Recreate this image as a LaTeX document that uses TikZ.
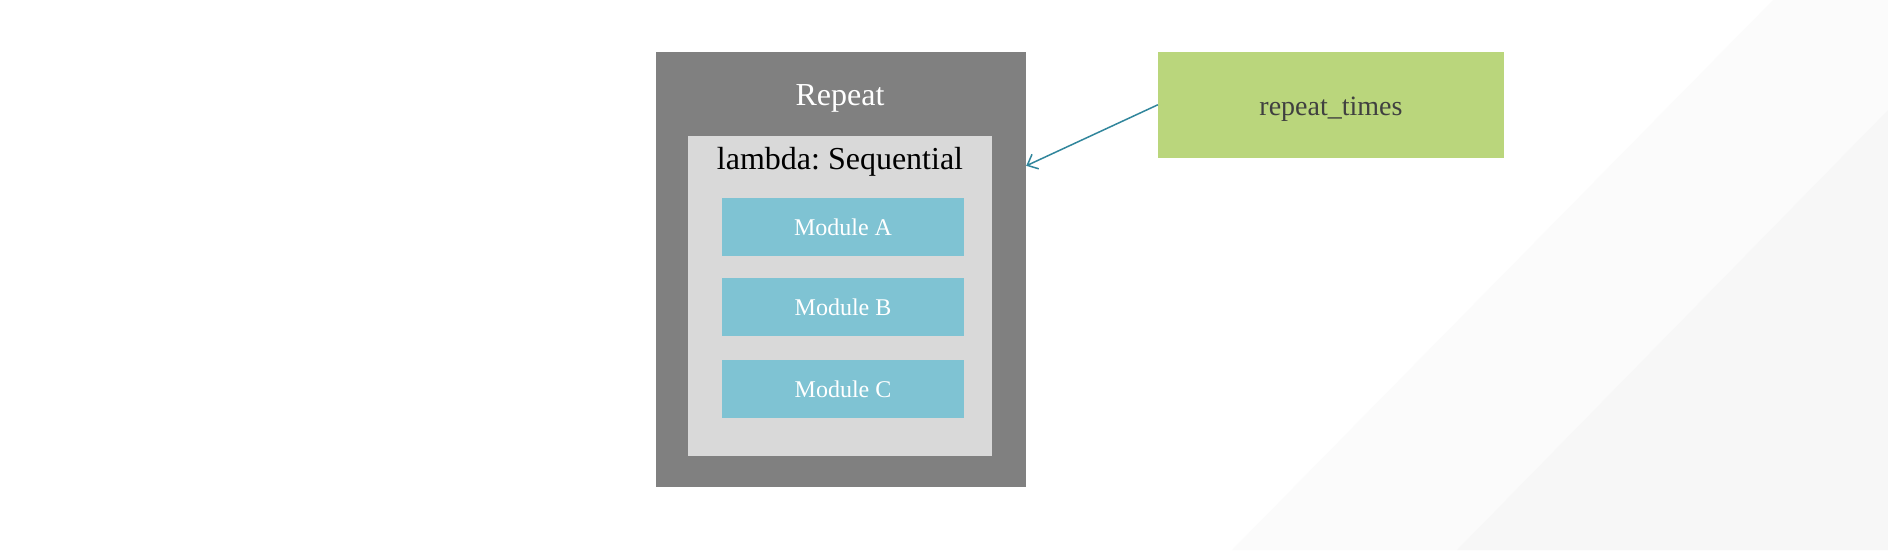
\documentclass[tikz,border=0pt]{standalone}
\usepackage{fontspec}
\setmainfont{Liberation Serif}
\usetikzlibrary{arrows.meta,calc}
\frenchspacing
\definecolor{outergray}{HTML}{808080}
\definecolor{innergray}{HTML}{D9D9D9}
\definecolor{modblue}{HTML}{7FC3D3}
\definecolor{paramgreen}{HTML}{BAD67C}
\definecolor{textdark}{HTML}{404040}
\definecolor{arrowteal}{HTML}{31869C}
\definecolor{bandone}{HTML}{FBFBFB}
\definecolor{bandtwo}{HTML}{F7F7F7}
\tikzset{
  box/.style={rectangle, inner sep=0pt, draw=none},
  outerbox/.style={box, fill=outergray, minimum width=370pt, minimum height=435pt},
  innerbox/.style={box, fill=innergray, minimum width=304pt, minimum height=320pt},
  modbox/.style={box, fill=modblue, minimum width=242pt, minimum height=58pt,
    text=white, font=\fontsize{24}{28}\selectfont},
  parambox/.style={box, fill=paramgreen, minimum width=346pt, minimum height=105.7pt,
    text=textdark, font=\fontsize{28}{32}\selectfont, text height=20.4pt, text depth=0pt},
  titletext/.style={anchor=base, inner sep=0pt, font=\fontsize{32}{38}\selectfont},
  link/.style={draw=arrowteal, line width=1.5pt, -{Straight Barb[length=9pt,width=16pt,line width=1.5pt]}}
}
\begin{document}
\begin{tikzpicture}[x=1pt,y=-1pt]
\useasboundingbox (0,0) rectangle (1888,550);
\fill[white] (0,0) rectangle (1888,550);
\fill[bandone] (1232,550) -- (1773,0) -- (1888,0) -- (1888,550) -- cycle;
\fill[bandtwo] (1457,550) -- (1888,110) -- (1888,550) -- cycle;
\node[outerbox] (outer) at (841,269.5) {};
\node[titletext, text=white] (repeatlbl) at (840,105) {Repeat};
\node[innerbox] (inner) at (840,296) {};
\node[titletext, text=black] (lambdalbl) at (840,169) {lambda: Sequential};
\node[modbox] (moda) at (843,227) {Module A};
\node[modbox] (modb) at (843,307) {Module B};
\node[modbox] (modc) at (843,389) {Module C};
\node[parambox] (times) at (1331,104.8) {repeat\_times};
\coordinate (tip) at ($(outer.north east)+(0,114)$);
\draw[link] (times.west) -- (tip);
\end{tikzpicture}
\end{document}
